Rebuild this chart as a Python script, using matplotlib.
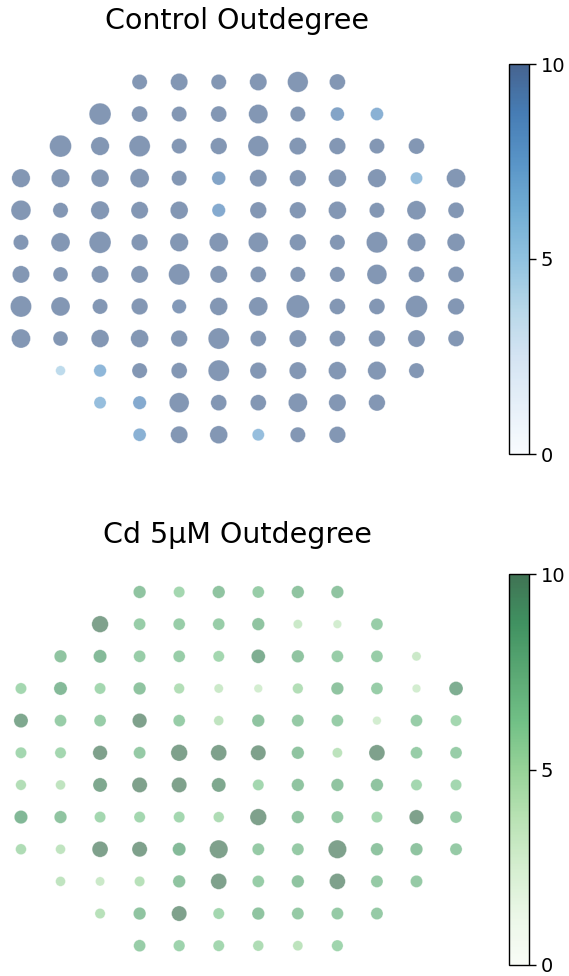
import matplotlib
matplotlib.use('Agg')
import matplotlib.pyplot as plt
from matplotlib.cm import ScalarMappable
from matplotlib.colors import Normalize

# Outdegree per electrode, one list per row of the 120-electrode array (top to bottom)
control_rows = [
    [10.9, 14, 11, 14, 20, 12],
    [22.5, 12, 11, 12, 17.4, 11, 9, 8],
    [22.5, 16, 21, 11, 13, 20, 14, 13, 11, 12],
    [16, 16, 15, 17, 11, 9, 14, 13, 15, 16, 7, 17],
    [18.6, 11, 16, 14, 15, 8.5, 13, 13, 15, 11, 17, 12],
    [11, 17, 22.5, 13, 16, 17, 18.6, 13, 11, 21, 16, 15],
    [14, 10.5, 14, 14, 21, 14, 12, 11, 11, 18.6, 12, 12],
    [21, 17, 11, 13, 9.8, 15, 17, 25, 12, 12, 22.5, 13],
    [17, 10.5, 15, 15, 13, 21, 12, 14, 12, 13, 14, 12],
    [4.5, 7.5, 11, 12, 21, 13, 14, 15, 16, 11],
    [7, 8.5, 18.6, 12, 12, 17, 14, 13],
    [8, 14, 15, 7, 11, 13],
]

cd_rows = [
    [7.5, 6, 7.5, 6.8, 7.5, 7.5],
    [13, 6.8, 6.8, 6.8, 7.5, 4, 3.5, 6.8],
    [7.5, 8.3, 6.8, 6.8, 6, 9.2, 7.5, 6.8, 6.8, 4],
    [6, 8.3, 6, 7.5, 5.3, 4, 3.5, 5.3, 7.5, 6.8, 3.5, 9.2],
    [9.5, 6.8, 6.8, 10, 6.8, 4.6, 7.5, 7, 6.8, 3.5, 6.8, 6],
    [6, 6, 10, 7, 13, 12, 11, 7.5, 4.8, 12, 6.8, 6.8],
    [5.3, 4.6, 9.5, 11, 11, 9.5, 6, 7.5, 7.5, 7.5, 6, 6],
    [8.5, 7.5, 6, 6, 6, 5.5, 13, 7.5, 7, 6, 10, 6.8],
    [5.5, 4.6, 12, 11, 8.3, 16, 7, 7, 16, 7.5, 7.5, 7],
    [4.6, 4, 5, 7.5, 12, 6.8, 7.5, 12, 7, 7],
    [5, 7.5, 11, 6, 7.5, 7, 7, 7],
    [6.8, 6.3, 6, 5.5, 4.8, 6.2],
]

titles = ["Control Outdegree", "Cd 5\u00b5M Outdegree"]
cmaps = ["Blues", "Greens"]
cbar_ticks = [0, 5, 10]


def grid_points(rows):
    # electrode columns are centred in a 12-wide grid
    xs, ys, vals = [], [], []
    for r, row in enumerate(rows):
        start = (12 - len(row)) // 2
        for i, v in enumerate(row):
            xs.append(start + i)
            ys.append(r)
            vals.append(v)
    return xs, ys, vals


fig = plt.figure(figsize=(5.69, 9.76), dpi=100)
W, H = 569, 976

panels = [(control_rows, 64, 454), (cd_rows, 574, 965)]
title_base = [29, 543]
norm = Normalize(vmin=0, vmax=10)

for k, (rows, top, bottom) in enumerate(panels):
    ax = fig.add_axes([0, 1 - bottom / H, 477 / W, (bottom - top) / H])
    xs, ys, vals = grid_points(rows)
    ax.scatter(xs, ys, s=[11 * v for v in vals], c=vals, cmap=cmaps[k],
               norm=norm, alpha=0.5, edgecolors='white', linewidths=0.4)
    ax.set_xlim(-0.53, 11.53)
    ax.set_ylim(11.6, -0.56)
    ax.axis('off')

    fig.text(237 / W, 1 - title_base[k] / H, titles[k], ha='center',
             va='baseline', fontsize=20.5)

    cax = fig.add_axes([509 / W, 1 - bottom / H, 20 / W, (bottom - top) / H])
    sm = ScalarMappable(norm=norm, cmap=cmaps[k])
    cb = fig.colorbar(sm, cax=cax, ticks=cbar_ticks, alpha=0.75)
    cb.ax.tick_params(labelsize=14, length=5, width=1)
    cb.outline.set_linewidth(1)

fig.savefig('out.png', dpi=100)
